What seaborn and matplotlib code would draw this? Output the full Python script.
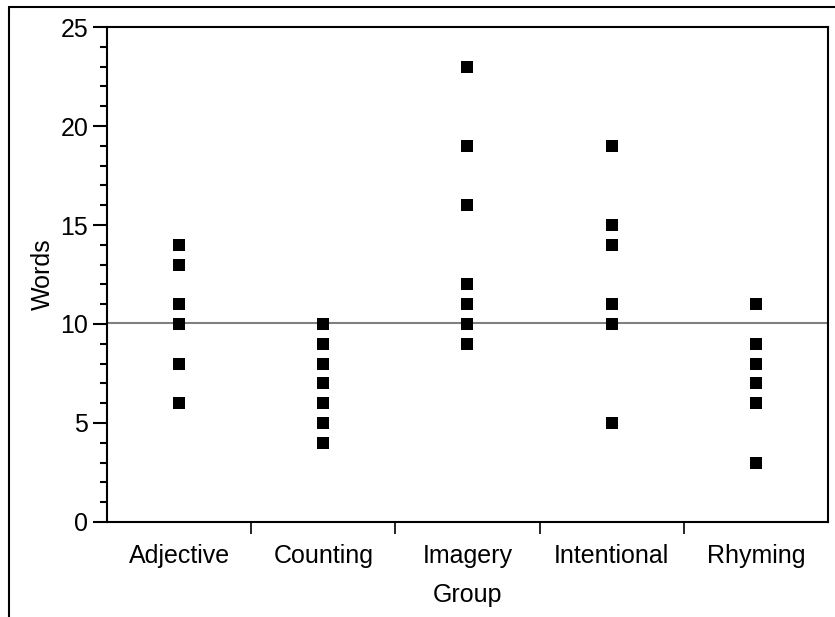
import pandas as pd
import numpy as np
import seaborn as sns
import matplotlib.pyplot as plt
from matplotlib.lines import Line2D
from matplotlib.ticker import MultipleLocator, FixedLocator

# data
groups = ['Adjective', 'Counting', 'Imagery', 'Intentional', 'Rhyming']
adjective = [14, 13, 11, 10, 8, 6]
counting = [10, 9, 8, 7, 6, 5, 4]
imagery = [23, 19, 16, 12, 11, 10, 9]
intentional = [19, 15, 14, 11, 10, 5]
rhyming = [11, 9, 8, 7, 6, 3]
grand_mean = 10.06

df = pd.DataFrame({
    'Group': np.repeat(groups, [len(adjective), len(counting), len(imagery),
                                len(intentional), len(rhyming)]),
    'Words': adjective + counting + imagery + intentional + rhyming,
})

sns.set_style('white')
plt.rcParams['font.family'] = ['Liberation Sans', 'DejaVu Sans']
plt.rcParams['text.color'] = 'black'
plt.rcParams['axes.labelcolor'] = 'black'
plt.rcParams['xtick.color'] = 'black'
plt.rcParams['ytick.color'] = 'black'

fig = plt.figure(figsize=(8.35, 6.17), dpi=100)
ax = fig.add_axes([0.1281, 0.154, 0.8635, 0.8022])

ax.axhline(grand_mean, color='#808080', lw=1.5, zorder=1)
sns.stripplot(data=df, x='Group', y='Words', order=groups, jitter=False,
              marker='s', size=8, color='black', linewidth=0, ax=ax, zorder=3)

ax.set_ylim(0, 25)
ax.set_xlim(-0.5, 4.5)
ax.yaxis.set_major_locator(MultipleLocator(5))
ax.yaxis.set_minor_locator(MultipleLocator(1))
ax.xaxis.set_minor_locator(FixedLocator([0.5, 1.5, 2.5, 3.5]))

for s in ax.spines.values():
    s.set_color('black')
    s.set_linewidth(1.5)

ax.tick_params(axis='y', which='major', length=10, width=1.5, pad=3.5,
               labelsize=18, left=True, direction='out')
ax.tick_params(axis='y', which='minor', length=5, width=1.5, left=True,
               direction='out')
ax.tick_params(axis='x', which='major', length=0, pad=16, labelsize=18)
ax.tick_params(axis='x', which='minor', length=8.6, width=1.2, bottom=True,
               direction='out')

ax.set_xlabel('Group', fontsize=18, labelpad=10.5)
ax.set_ylabel('Words', fontsize=18, labelpad=4)

# outer frame lines (top and left)
fig.add_artist(Line2D([8.7 / 835, 1.0], [1 - 6.7 / 617, 1 - 6.7 / 617],
                      transform=fig.transFigure, color='black', lw=1.5))
fig.add_artist(Line2D([8.7 / 835, 8.7 / 835], [0, 1 - 6.7 / 617],
                      transform=fig.transFigure, color='black', lw=1.5))

fig.savefig('out.png', dpi=100)
